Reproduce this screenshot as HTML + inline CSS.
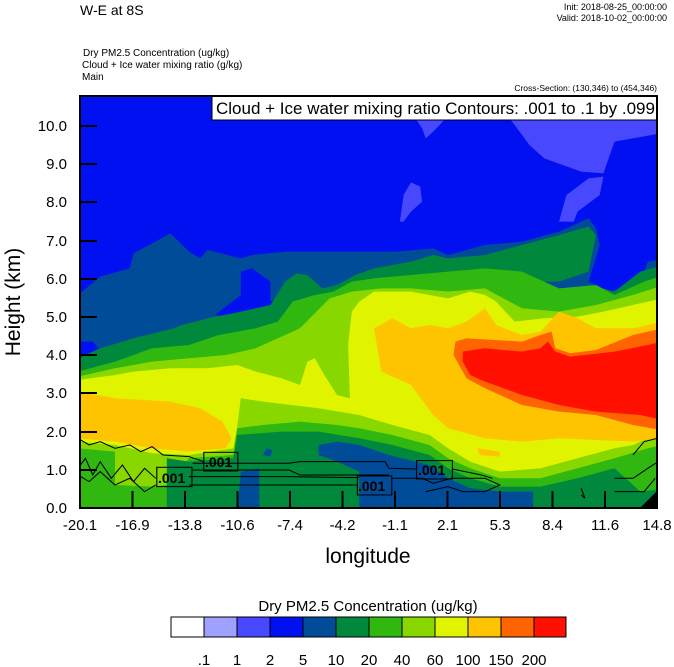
<!DOCTYPE html>
<html><head><meta charset="utf-8"><style>
html,body{margin:0;padding:0;background:#fff;}
svg{display:block;font-family:"Liberation Sans",sans-serif;}
</style></head><body>
<svg width="674" height="667" viewBox="0 0 674 667" xmlns="http://www.w3.org/2000/svg">
<text x="80" y="15" font-size="14">W-E at 8S</text>
<text x="667" y="10" font-size="9" text-anchor="end">Init: 2018-08-25_00:00:00</text>
<text x="667" y="21" font-size="9" text-anchor="end">Valid: 2018-10-02_00:00:00</text>
<text x="83" y="56" font-size="10"> Dry PM2.5 Concentration   (ug/kg)</text>
<text x="82" y="68" font-size="10">Cloud + Ice water mixing ratio   (g/kg)</text>
<text x="82" y="80" font-size="10">Main</text>
<text x="657" y="91" font-size="8.5" text-anchor="end">Cross-Section: (130,346) to (454,346)</text>
<defs><clipPath id="pc"><rect x="80" y="96" width="577" height="412"/></clipPath></defs>
<g clip-path="url(#pc)">
<g transform="translate(78,95) scale(0.37,0.3333)">
<rect x="0" y="0" width="1600" height="1260" fill="#0010f0"/>
<g fill="#4848ff">
<polygon points="1170,75 1600,75 1600,110 1450,140 1420,235 1360,230 1260,190 1220,150"/>
<polygon points="1300,380 1320,300 1380,250 1420,245 1410,300 1350,350 1340,380"/>
<polygon points="915,75 990,75 960,110 940,130 930,100"/>
<polygon points="870,380 880,300 900,262 925,275 930,320 900,350 880,380"/>
</g>
<polygon fill="#004c98" points="0,600 60,545 140,520 150,475 250,415 300,470 330,490 350,465 440,490 470,480 560,470 680,470 860,470 960,460 1000,480 1100,450 1200,440 1300,410 1380,370 1400,400 1410,450 1380,560 1440,590 1520,560 1540,500 1600,490 1600,1260 0,1260"/>
<polygon fill="#0010f0" points="370,660 440,600 440,530 470,520 520,560 520,620 570,590 540,650 420,670"/>
<polygon fill="#0010f0" points="0,740 40,740 60,765 0,790"/>
<polygon fill="#00883c" points="0,790 60,760 150,730 260,700 280,690 370,665 420,655 520,630 560,560 590,535 620,540 660,580 700,570 750,540 800,520 900,500 960,480 1000,490 1100,480 1200,450 1300,420 1380,395 1400,420 1380,530 1300,560 1220,560 1190,610 1240,620 1300,610 1330,600 1380,570 1450,590 1520,530 1600,505 1600,1260 0,1260"/>
<polygon fill="#30b810" points="0,830 100,800 200,760 300,750 380,720 480,700 540,680 580,620 640,600 690,590 740,560 800,550 900,540 1000,530 1100,520 1200,530 1300,580 1400,570 1450,600 1530,560 1600,535 1600,1260 0,1260"/>
<polygon fill="#88d800" points="0,845 100,820 200,800 300,790 400,780 480,760 560,720 600,700 680,610 740,590 820,580 900,580 1000,590 1100,580 1150,610 1200,640 1300,650 1400,630 1500,600 1600,565 1600,1260 0,1260"/>
<polygon fill="#e0f400" points="0,855 100,840 150,830 250,820 350,820 430,810 480,830 550,850 600,870 620,800 640,790 660,830 700,900 735,910 730,750 740,650 760,620 800,590 900,590 1000,610 1060,590 1100,600 1130,620 1180,680 1260,670 1350,665 1420,650 1500,630 1600,605 1600,1030 1540,1030 1500,1050 1450,1060 1350,1090 1250,1120 1140,1130 1060,1100 1000,1060 950,1020 850,990 760,960 650,940 500,920 440,910 430,1000 420,1060 300,1080 200,1075 100,1050 0,1040"/>
<polygon fill="#ffc400" points="0,890 100,910 250,920 330,940 390,980 415,1030 400,1060 300,1070 200,1060 100,1040 0,1030"/>
<polygon fill="#ffc400" points="800,700 850,670 900,700 950,690 1000,700 1050,680 1100,640 1130,690 1200,720 1250,710 1300,650 1350,670 1400,700 1500,700 1600,675 1600,1025 1500,1040 1400,1035 1300,1030 1200,1040 1100,1030 1000,1000 960,960 920,900 900,870 820,830"/>
<polygon fill="#ffc400" points="1080,1060 1140,1070 1140,1085 1085,1080"/>
<polygon fill="#ff6400" points="1020,740 1050,730 1200,740 1250,720 1280,710 1290,760 1330,775 1400,765 1500,720 1600,695 1600,1010 1500,990 1400,960 1300,950 1200,930 1100,880 1050,850 1015,780"/>
<polygon fill="#ff1000" points="1040,770 1100,760 1200,770 1250,760 1270,740 1290,770 1330,785 1450,770 1540,750 1600,735 1600,980 1520,960 1400,950 1300,930 1200,900 1150,880 1100,860 1060,840 1040,800"/>
<polygon fill="#30b810" points="0,1060 100,1070 100,1170 200,1175 240,1170 300,1090 420,1080 430,1000 500,990 600,980 700,990 760,1000 850,1020 950,1050 1000,1090 1060,1120 1140,1150 1250,1150 1350,1120 1450,1090 1540,1060 1600,1045 1600,1260 0,1260"/>
<polygon fill="#00883c" points="240,1260 240,1090 300,1100 420,1090 430,1020 550,1010 650,1010 760,1030 850,1050 950,1080 1000,1120 1060,1150 1140,1175 1250,1175 1350,1150 1450,1120 1520,1190 1600,1180 1600,1260"/>
<g fill="#004c98">
<polygon points="430,1260 440,1130 490,1120 490,1260"/>
<polygon points="500,1080 510,1060 525,1065 520,1085"/>
<polygon points="650,1050 700,1040 760,1050 840,1080 950,1110 1000,1150 1060,1180 1140,1190 1230,1190 1230,1260 760,1260 760,1130 700,1100 650,1080"/>
</g>
<polygon fill="#000" points="1500,1260 1600,1150 1600,1260"/>
<g fill="none" stroke="#000" stroke-width="3">
<polyline points="0,1030 30,1050 60,1040 100,1060 140,1050 170,1070 200,1055 230,1080 300,1085 340,1100"/>
<polyline points="0,1120 20,1090 40,1140 60,1100 90,1150 120,1110 150,1160 180,1120 210,1150"/>
<polyline points="0,1140 30,1160 60,1130 100,1170 140,1150 180,1190 210,1170"/>
<polyline points="310,1105 570,1105 600,1100 830,1100 840,1120 915,1122"/>
<polyline points="310,1125 570,1125 600,1140 760,1140 840,1140"/>
<polyline points="300,1145 560,1145 760,1148"/>
<polyline points="300,1170 755,1170"/>
<polyline points="848,1150 930,1150 960,1165 1010,1150 1100,1150 1140,1170 1100,1190 1040,1190 1000,1175 940,1190"/>
<polyline points="1012,1122 1090,1140 1120,1150"/>
<polyline points="1500,1080 1530,1040 1565,1030"/>
<polyline points="1450,1150 1500,1150 1540,1120 1568,1100"/>
<polyline points="1450,1190 1530,1190 1560,1150"/>
<polyline points="1360,1180 1370,1210 1360,1200"/>
</g>
<g fill="none" stroke="#000" stroke-width="3">
<rect x="340" y="1072" width="92" height="56"/>
<rect x="213" y="1117" width="95" height="58"/>
<rect x="755" y="1143" width="93" height="57"/>
<rect x="915" y="1097" width="97" height="55"/>
</g>
</g>
</g>
<g font-size="14" font-weight="bold">
<text x="205" y="467">.001</text>
<text x="158" y="483">.001</text>
<text x="358" y="491">.001</text>
<text x="418" y="475">.001</text>
</g>
<rect x="212" y="96" width="445" height="24" fill="#fff" stroke="#000" stroke-width="1"/>
<text x="216" y="114" font-size="17">Cloud + Ice water mixing ratio Contours: .001 to .1 by .099</text>
<rect x="80" y="96" width="577" height="412" fill="none" stroke="#000" stroke-width="2"/>
<g stroke="#000" stroke-width="2">
<line x1="80" y1="508" x2="97" y2="508"/><line x1="80" y1="470" x2="97" y2="470"/><line x1="80" y1="432" x2="97" y2="432"/><line x1="80" y1="393" x2="97" y2="393"/><line x1="80" y1="355" x2="97" y2="355"/><line x1="80" y1="317" x2="97" y2="317"/><line x1="80" y1="279" x2="97" y2="279"/><line x1="80" y1="241" x2="97" y2="241"/><line x1="80" y1="202" x2="97" y2="202"/><line x1="80" y1="164" x2="97" y2="164"/><line x1="80" y1="126" x2="97" y2="126"/>
<line x1="132.5" y1="508" x2="132.5" y2="491"/><line x1="185" y1="508" x2="185" y2="491"/><line x1="237.5" y1="508" x2="237.5" y2="491"/><line x1="290" y1="508" x2="290" y2="491"/><line x1="342.5" y1="508" x2="342.5" y2="491"/><line x1="395" y1="508" x2="395" y2="491"/><line x1="447.5" y1="508" x2="447.5" y2="491"/><line x1="500" y1="508" x2="500" y2="491"/><line x1="552.5" y1="508" x2="552.5" y2="491"/><line x1="605" y1="508" x2="605" y2="491"/>
</g>
<g font-size="15" text-anchor="end">
<text x="67" y="513">0.0</text><text x="67" y="475">1.0</text><text x="67" y="437">2.0</text><text x="67" y="398">3.0</text><text x="67" y="360">4.0</text><text x="67" y="322">5.0</text><text x="67" y="284">6.0</text><text x="67" y="246">7.0</text><text x="67" y="207">8.0</text><text x="67" y="169">9.0</text><text x="67" y="131">10.0</text>
</g>
<g font-size="15" text-anchor="middle">
<text x="80" y="530">-20.1</text><text x="132.5" y="530">-16.9</text><text x="185" y="530">-13.8</text><text x="237.5" y="530">-10.6</text><text x="290" y="530">-7.4</text><text x="342.5" y="530">-4.2</text><text x="395" y="530">-1.1</text><text x="447.5" y="530">2.1</text><text x="500" y="530">5.3</text><text x="552.5" y="530">8.4</text><text x="605" y="530">11.6</text><text x="657" y="530">14.8</text>
</g>
<text x="368" y="563" font-size="21" text-anchor="middle">longitude</text>
<text transform="translate(20,302) rotate(-90)" font-size="21" text-anchor="middle">Height (km)</text>
<text x="368" y="611" font-size="15" text-anchor="middle">Dry PM2.5 Concentration  (ug/kg)</text>
<g stroke="#000" stroke-width="1">
<rect x="171" y="617" width="33" height="20" fill="#ffffff"/>
<rect x="204" y="617" width="33" height="20" fill="#a0a0ff"/>
<rect x="237" y="617" width="33" height="20" fill="#4848ff"/>
<rect x="270" y="617" width="33" height="20" fill="#0010f0"/>
<rect x="303" y="617" width="33" height="20" fill="#004c98"/>
<rect x="336" y="617" width="33" height="20" fill="#00883c"/>
<rect x="369" y="617" width="33" height="20" fill="#30b810"/>
<rect x="402" y="617" width="33" height="20" fill="#88d800"/>
<rect x="435" y="617" width="33" height="20" fill="#e0f400"/>
<rect x="468" y="617" width="33" height="20" fill="#ffc400"/>
<rect x="501" y="617" width="33" height="20" fill="#ff6400"/>
<rect x="534" y="617" width="32" height="20" fill="#ff1000"/>
</g>
<g font-size="15" text-anchor="middle">
<text x="204" y="665">.1</text><text x="237" y="665">1</text><text x="270" y="665">2</text><text x="303" y="665">5</text><text x="336" y="665">10</text><text x="369" y="665">20</text><text x="402" y="665">40</text><text x="435" y="665">60</text><text x="468" y="665">100</text><text x="501" y="665">150</text><text x="534" y="665">200</text>
</g>
</svg>
</body></html>
